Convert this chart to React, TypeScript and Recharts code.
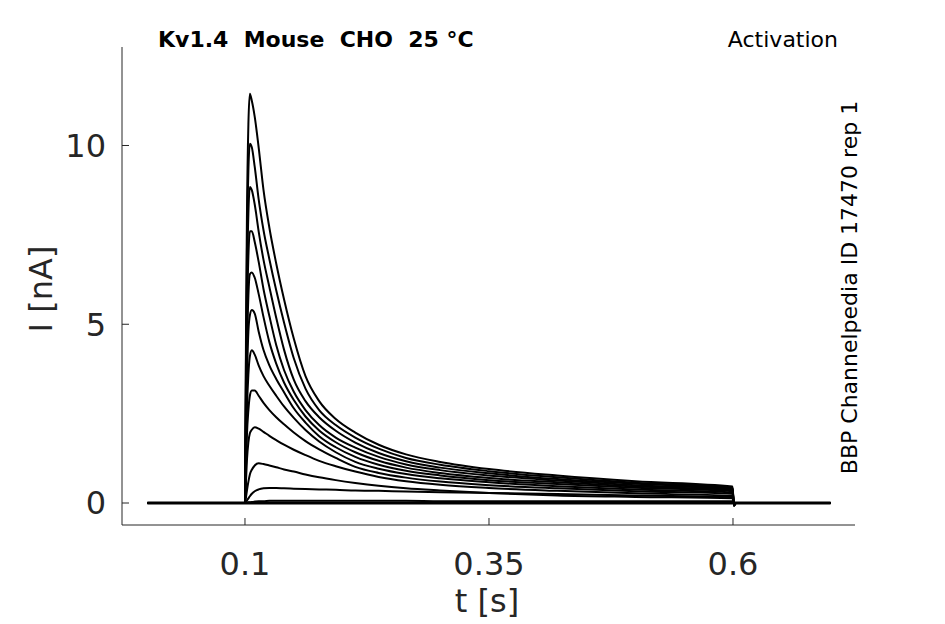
import { LineChart, Line, XAxis, YAxis } from 'recharts';

// sample times [s]
const times = [0, 0.0999, 0.1, 0.101, 0.102, 0.1035, 0.105, 0.107, 0.11, 0.114, 0.119, 0.125, 0.132, 0.14, 0.15, 0.162, 0.176, 0.193, 0.213, 0.237, 0.265, 0.3, 0.35, 0.42, 0.5, 0.5995, 0.601, 0.603, 0.7];

// current traces [nA], largest step first
const trace1 = [0, 0, 0, 4.5, 8.0, 10.6, 11.45, 11.25, 10.8, 9.95, 8.75, 7.7, 6.7, 5.7, 4.6, 3.55, 2.85, 2.35, 1.97, 1.63, 1.36, 1.15, 0.95, 0.77, 0.61, 0.46, -0.08, 0, 0];
const trace2 = [0, 0, 0, 3.9, 7.0, 9.3, 10.05, 9.95, 9.4, 8.5, 7.63, 6.82, 5.95, 5.05, 4.05, 3.2, 2.6, 2.18, 1.83, 1.52, 1.26, 1.07, 0.89, 0.72, 0.57, 0.43, -0.08, 0, 0];
const trace3 = [0, 0, 0, 3.3, 6.0, 8.1, 8.84, 8.75, 8.35, 7.6, 6.8, 6.04, 5.18, 4.29, 3.45, 2.85, 2.4, 2.02, 1.69, 1.4, 1.17, 0.99, 0.83, 0.67, 0.54, 0.41, -0.07, 0, 0];
const trace4 = [0, 0, 0, 2.8, 5.1, 6.9, 7.6, 7.6, 7.3, 6.75, 5.98, 5.23, 4.42, 3.72, 3.11, 2.6, 2.18, 1.83, 1.55, 1.29, 1.08, 0.92, 0.77, 0.63, 0.5, 0.39, -0.07, 0, 0];
const trace5 = [0, 0, 0, 2.3, 4.2, 5.8, 6.4, 6.45, 6.3, 5.85, 5.2, 4.5, 3.9, 3.37, 2.88, 2.42, 2.03, 1.7, 1.42, 1.18, 0.99, 0.84, 0.7, 0.58, 0.46, 0.36, -0.06, 0, 0];
const trace6 = [0, 0, 0, 1.9, 3.4, 4.8, 5.25, 5.4, 5.3, 4.8, 4.28, 3.85, 3.47, 3.1, 2.65, 2.25, 1.87, 1.56, 1.29, 1.07, 0.9, 0.77, 0.64, 0.53, 0.43, 0.33, -0.06, 0, 0];
const trace7 = [0, 0, 0, 1.4, 2.6, 3.6, 4.1, 4.27, 4.15, 3.85, 3.55, 3.28, 3.0, 2.7, 2.38, 2.04, 1.72, 1.42, 1.15, 0.96, 0.81, 0.69, 0.58, 0.47, 0.38, 0.3, -0.05, 0, 0];
const trace8 = [0, 0, 0, 1.0, 1.9, 2.6, 3.0, 3.15, 3.15, 3.0, 2.8, 2.6, 2.4, 2.2, 1.97, 1.73, 1.5, 1.26, 1.01, 0.84, 0.71, 0.6, 0.5, 0.41, 0.33, 0.26, -0.05, 0, 0];
const trace9 = [0, 0, 0, 0.6, 1.2, 1.7, 1.95, 2.05, 2.12, 2.08, 1.99, 1.88, 1.76, 1.63, 1.49, 1.34, 1.18, 1.03, 0.88, 0.73, 0.61, 0.51, 0.42, 0.34, 0.27, 0.2, -0.04, 0, 0];
const trace10 = [0, 0, 0, 0.15, 0.35, 0.6, 0.8, 0.93, 1.05, 1.11, 1.09, 1.05, 1.0, 0.94, 0.88, 0.8, 0.72, 0.64, 0.56, 0.48, 0.41, 0.35, 0.28, 0.21, 0.17, 0.13, -0.03, 0, 0];
const trace11 = [0, 0, 0, 0.03, 0.07, 0.13, 0.19, 0.26, 0.33, 0.38, 0.41, 0.42, 0.42, 0.41, 0.4, 0.39, 0.38, 0.37, 0.35, 0.34, 0.32, 0.3, 0.28, 0.25, 0.21, 0.17, -0.02, 0, 0];
const trace12 = [0, 0, 0, 0.01, 0.01, 0.02, 0.02, 0.03, 0.04, 0.05, 0.05, 0.06, 0.06, 0.06, 0.06, 0.06, 0.06, 0.06, 0.06, 0.06, 0.06, 0.05, 0.05, 0.05, 0.05, 0.05, 0, 0, 0];
const baseline = [0, 0, 0, 0, 0, 0, 0, 0, 0, 0, 0, 0, 0, 0, 0, 0, 0, 0, 0, 0, 0, 0, 0, 0, 0, 0, 0, 0, 0];

const traces = [baseline, trace12, trace11, trace10, trace9, trace8, trace7, trace6, trace5, trace4, trace3, trace2, trace1];

const xTicks = [0.1, 0.35, 0.6];
const yTicks = [0, 5, 10];

const data = times.map((t, i) => {
  const row: Record<string, number> = { t };
  traces.forEach((s, k) => {
    row['s' + k] = s[i];
  });
  return row;
});

const FONT = '"DejaVu Sans", sans-serif';
const AXIS = '#262626';

export default function App() {
  return (
    <div style={{ position: 'absolute', left: 0, top: 0, width: 945, height: 624, background: '#fff' }}>
      <LineChart width={945} height={624} data={data} margin={{ top: 47, right: 90, bottom: 59, left: 62 }}>
        <XAxis
          dataKey="t"
          type="number"
          domain={[-0.026, 0.725]}
          ticks={xTicks}
          allowDataOverflow
          height={40}
          stroke={AXIS}
          tickSize={-7}
          tickMargin={34}
          tickFormatter={(v) => String(v)}
          tick={{ fill: AXIS, fontSize: 32, fontFamily: FONT }}
        />
        <YAxis
          type="number"
          domain={[-0.615, 12.755]}
          ticks={yTicks}
          allowDataOverflow
          width={60}
          stroke={AXIS}
          tickSize={-7}
          tickMargin={23}
          tick={{ fill: AXIS, fontSize: 32, fontFamily: FONT }}
        />
        {traces.map((_, k) => (
          <Line
            key={k}
            dataKey={'s' + k}
            type="monotone"
            stroke="#000"
            strokeWidth={k === 0 ? 2.8 : 2}
            dot={false}
            activeDot={false}
            isAnimationActive={false}
          />
        ))}
      </LineChart>
      <svg width={945} height={624} style={{ position: 'absolute', left: 0, top: 0, pointerEvents: 'none' }} fontFamily={FONT}>
        <text x={158} y={47} fontSize={22} fontWeight="bold" fill="#000" xmlSpace="preserve" style={{ whiteSpace: 'pre' }}>
          Kv1.4  Mouse  CHO  25 °C
        </text>
        <text x={838} y={47} fontSize={22} textAnchor="end" fill="#000">
          Activation
        </text>
        <text transform="translate(857,287.5) rotate(-90)" fontSize={22} textAnchor="middle" fill="#000">
          BBP Channelpedia ID 17470 rep 1
        </text>
        <text transform="translate(52,289) rotate(-90)" fontSize={32} textAnchor="middle" fill={AXIS}>
          I [nA]
        </text>
        <text x={487} y={612} fontSize={32} textAnchor="middle" fill={AXIS}>
          t [s]
        </text>
      </svg>
    </div>
  );
}
